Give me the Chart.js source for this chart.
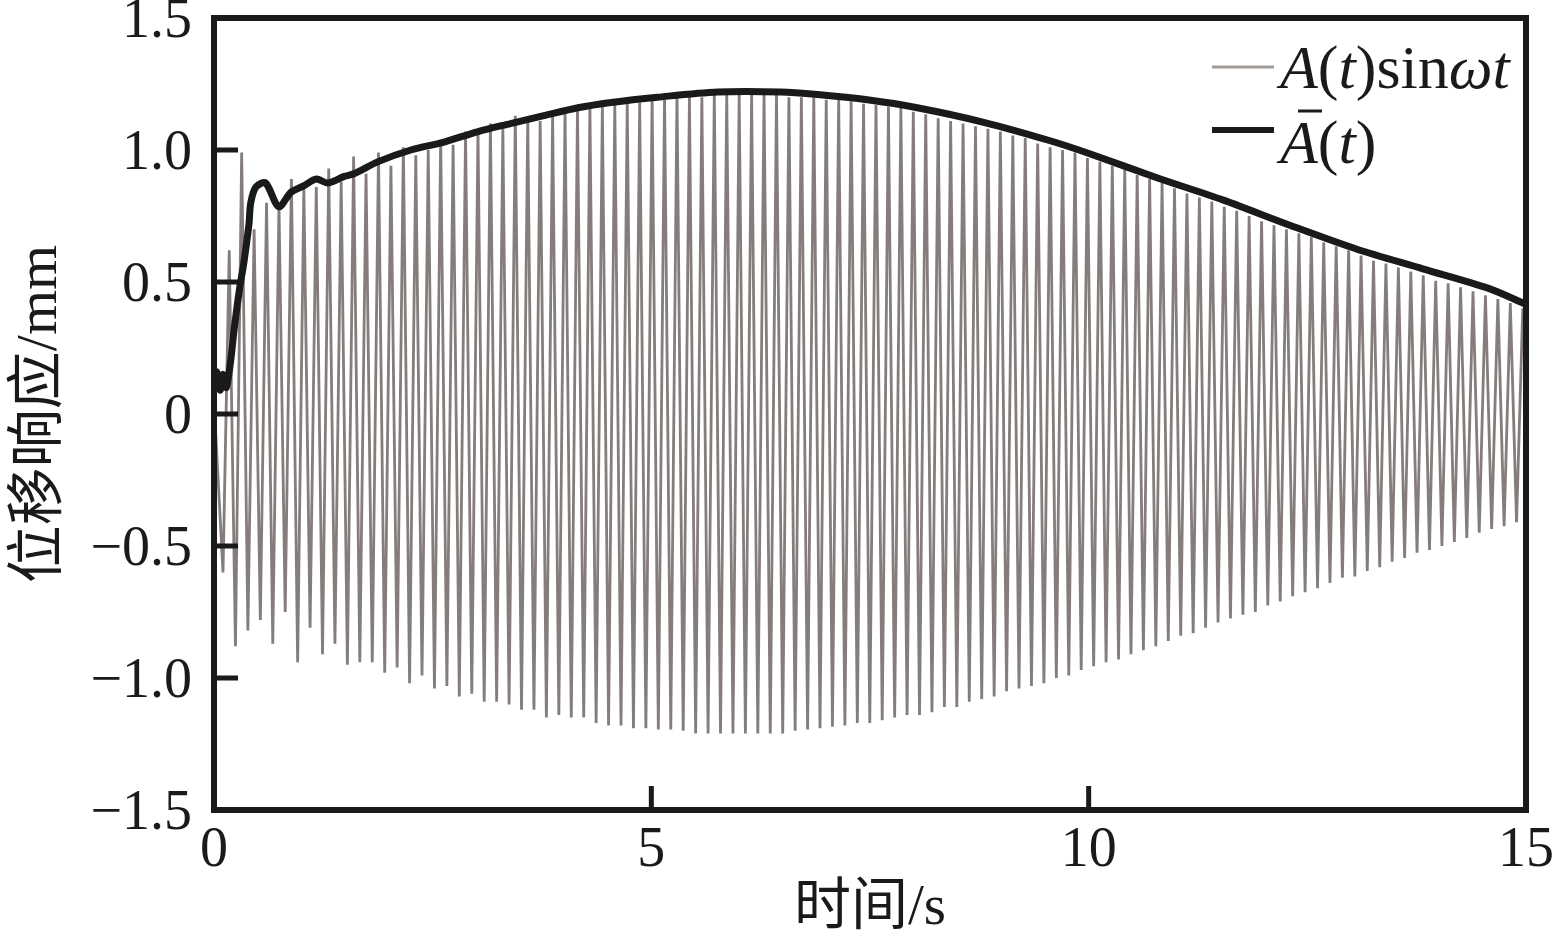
<!DOCTYPE html>
<html>
<head>
<meta charset="utf-8">
<script src="https://cdn.jsdelivr.net/npm/chart.js@4/dist/chart.umd.min.js"></script>
<style>
  html, body { margin: 0; padding: 0; background: #fff; }
  #wrap { width: 1552px; height: 943px; }
</style>
</head>
<body>
<div id="wrap"><canvas id="respChart" width="1552" height="943"></canvas></div>
<script>
// first downward peak and spacing between stripes (s)
const firstPeakTime = 0.103;
const peakSpacing = 0.1422;
const startValue = 0.05;

// lower peaks of A(t)sinωt, one per stripe (mm)
const lowerPeaks = [
  -0.60, -0.88, -0.82, -0.78, -0.87, -0.75, -0.94, -0.81, -0.91, -0.87,
  -0.95, -0.94, -0.94, -0.98, -0.96, -1.02, -0.99, -1.04, -1.03, -1.07,
  -1.06, -1.09, -1.09, -1.10, -1.12, -1.12, -1.15, -1.14, -1.15, -1.15,
  -1.17, -1.18, -1.18, -1.19, -1.19,
  -1.195, -1.195, -1.20, -1.21, -1.21, -1.21, -1.21, -1.21, -1.21, -1.21,
  -1.21, -1.20, -1.195, -1.19, -1.185, -1.18, -1.17, -1.17, -1.16, -1.15,
  -1.14, -1.14, -1.13, -1.11, -1.11, -1.09, -1.08, -1.07, -1.05, -1.04,
  -1.03, -1.02, -1.00, -0.99, -0.97, -0.955,
  -0.94, -0.93, -0.91, -0.895, -0.88, -0.86, -0.84, -0.83, -0.81, -0.79,
  -0.775, -0.76, -0.75, -0.725, -0.71, -0.69, -0.675, -0.66, -0.64, -0.62,
  -0.615, -0.595, -0.58, -0.56, -0.545, -0.525, -0.515, -0.50, -0.485, -0.47,
  -0.45, -0.435, -0.425, -0.41
];

// upper peaks of A(t)sinωt, one per stripe (mm)
const upperPeaks = [
  0.62, 0.99, 0.70,
  0.80, 0.79, 0.89, 0.855, 0.86, 0.93, 0.88, 0.975, 0.91, 0.99,
  0.94, 1.01, 0.98, 1.00, 1.04, 1.02, 1.07, 1.07, 1.10, 1.08,
  1.13, 1.12, 1.11, 1.13, 1.145, 1.16, 1.16, 1.165, 1.17, 1.18, 1.18,
  1.20, 1.20, 1.21, 1.20, 1.20, 1.21, 1.215, 1.215, 1.21, 1.21,
  1.21, 1.20, 1.20, 1.20, 1.19, 1.19, 1.185, 1.175, 1.17, 1.165,
  1.16, 1.145, 1.135, 1.12, 1.11, 1.10, 1.09, 1.08, 1.07, 1.055,
  1.045, 1.025, 1.01, 1.00, 0.99, 0.97,
  0.955, 0.94, 0.925, 0.905, 0.89, 0.875, 0.855, 0.835, 0.82, 0.805,
  0.785, 0.77, 0.75, 0.73, 0.715, 0.70, 0.685, 0.67, 0.65, 0.635,
  0.62, 0.60, 0.58, 0.57, 0.555, 0.54, 0.525, 0.505, 0.495, 0.48,
  0.465, 0.45, 0.435, 0.42, 0.40
];

// mean amplitude curve
const meanTimes = [
  0, 0.03, 0.07, 0.10, 0.14, 0.19, 0.23, 0.29, 0.34, 0.40,
  0.42, 0.48, 0.59, 0.74, 0.88, 1.03, 1.17, 1.30, 1.49, 1.60,
  1.87, 2.25, 2.63, 3.02, 3.39, 3.77, 4.16, 4.54, 5.07, 5.76,
  6.48, 6.90, 7.47, 8.04, 8.80, 9.56, 10.02, 10.78, 11.54, 12.30,
  13.06, 13.82, 14.58, 15.0
];
const meanAmp = [
  0.10, 0.16, 0.09, 0.15, 0.10, 0.20, 0.32, 0.47, 0.57, 0.72,
  0.80, 0.86, 0.875, 0.785, 0.84, 0.865, 0.89, 0.875, 0.90, 0.91,
  0.955, 1.00, 1.03, 1.07, 1.10, 1.13, 1.16, 1.18, 1.20, 1.22,
  1.22, 1.21, 1.19, 1.16, 1.105, 1.035, 0.985, 0.895, 0.81, 0.715,
  0.625, 0.55, 0.475, 0.415
];

const xTicks = [0, 5, 10, 15];
const yTicks = [-1.5, -1.0, -0.5, 0, 0.5, 1.0, 1.5];

const serif = "'Liberation Serif', 'Times New Roman', serif";
const titleFont = "'Liberation Serif', 'Noto Sans CJK SC', serif";
const ink = '#1b1a1a';
const grayLine = '#857d7b';

// zig-zag through the peaks
let signal = [{x: 0, y: startValue}];
for (let i = 0; i < lowerPeaks.length; i++) {
  let t = firstPeakTime + i * peakSpacing;
  signal.push({x: t, y: lowerPeaks[i]});
  signal.push({x: t + peakSpacing / 2, y: upperPeaks[i]});
}
let mean = meanTimes.map((t, i) => ({x: t, y: meanAmp[i]}));

// frame and inward ticks
const framePlugin = {
  id: 'frame',
  afterDatasetsDraw(chart) {
    const {ctx, chartArea: a, scales} = chart;
    ctx.save();
    ctx.strokeStyle = ink;
    ctx.lineWidth = 6;
    ctx.strokeRect(a.left, a.top, a.right - a.left, a.bottom - a.top);
    ctx.lineWidth = 5;
    ctx.beginPath();
    yTicks.forEach(v => {
      let y = scales.y.getPixelForValue(v);
      ctx.moveTo(a.left, y);
      ctx.lineTo(a.left + 24, y);
    });
    xTicks.forEach(v => {
      let x = scales.x.getPixelForValue(v);
      ctx.moveTo(x, a.bottom);
      ctx.lineTo(x, a.bottom - 24);
    });
    ctx.stroke();
    ctx.restore();
  }
};

// legend with italic math parts
function drawRich(ctx, parts, x, y, size) {
  parts.forEach(p => {
    ctx.font = (p[1] ? 'italic ' : '') + size + 'px ' + serif;
    ctx.fillText(p[0], x, y);
    x += ctx.measureText(p[0]).width;
  });
}

const legendPlugin = {
  id: 'mathLegend',
  afterDraw(chart) {
    const ctx = chart.ctx;
    ctx.save();
    ctx.fillStyle = ink;
    ctx.textBaseline = 'alphabetic';
    ctx.lineCap = 'butt';
    // row 1
    ctx.strokeStyle = '#a39b98';
    ctx.lineWidth = 3;
    ctx.beginPath(); ctx.moveTo(1212, 67); ctx.lineTo(1274, 67); ctx.stroke();
    drawRich(ctx, [['A', true], ['(', false], ['t', true], [')', false], ['sin', false], ['ω', true], ['t', true]], 1280, 88, 62);
    // row 2
    ctx.strokeStyle = ink;
    ctx.lineWidth = 6;
    ctx.beginPath(); ctx.moveTo(1212, 130); ctx.lineTo(1274, 130); ctx.stroke();
    drawRich(ctx, [['A', true], ['(', false], ['t', true], [')', false]], 1280, 163, 62);
    ctx.lineWidth = 3;
    ctx.beginPath(); ctx.moveTo(1298, 111); ctx.lineTo(1322, 111); ctx.stroke();
    ctx.restore();
  }
};

new Chart(document.getElementById('respChart'), {
  type: 'line',
  data: {
    datasets: [
      {
        label: 'Ā(t)',
        data: mean,
        borderColor: ink,
        borderWidth: 7,
        pointRadius: 0,
        tension: 0.3,
        order: 0
      },
      {
        label: 'A(t)sinωt',
        data: signal,
        borderColor: grayLine,
        borderWidth: 2.8,
        pointRadius: 0,
        tension: 0,
        order: 1
      }
    ]
  },
  options: {
    responsive: false,
    animation: false,
    devicePixelRatio: 1,
    layout: { padding: { left: 0, right: 26, top: 18, bottom: 0 } },
    plugins: { legend: { display: false }, tooltip: { enabled: false } },
    scales: {
      x: {
        type: 'linear',
        min: 0, max: 15,
        afterBuildTicks: s => { s.ticks = xTicks.map(v => ({value: v})); },
        afterFit: s => { s.height = 133; s.paddingLeft = 0; s.paddingRight = 0; },
        grid: { display: false, drawTicks: false },
        border: { display: false },
        ticks: {
          padding: 8,
          color: ink,
          font: { family: serif, size: 56 },
          maxRotation: 0
        },
        title: {
          display: true,
          text: '时间/s',
          color: ink,
          font: { family: titleFont, size: 57 },
          padding: { top: 0, bottom: 0 }
        }
      },
      y: {
        type: 'linear',
        min: -1.5, max: 1.5,
        afterBuildTicks: s => { s.ticks = yTicks.map(v => ({value: v})); },
        afterFit: s => { s.width = 214; s.paddingTop = 0; s.paddingBottom = 0; },
        grid: { display: false, drawTicks: false },
        border: { display: false },
        ticks: {
          padding: 22,
          labelOffset: 4,
          color: ink,
          font: { family: serif, size: 56 },
          callback: v => v === 0 ? '0' : v.toFixed(1).replace('-', '\u2212')
        },
        title: {
          display: true,
          text: '位移响应/mm',
          color: ink,
          font: { family: titleFont, size: 58 },
          padding: { top: 6, bottom: 0 }
        }
      }
    }
  },
  plugins: [framePlugin, legendPlugin]
});
</script>
</body>
</html>
